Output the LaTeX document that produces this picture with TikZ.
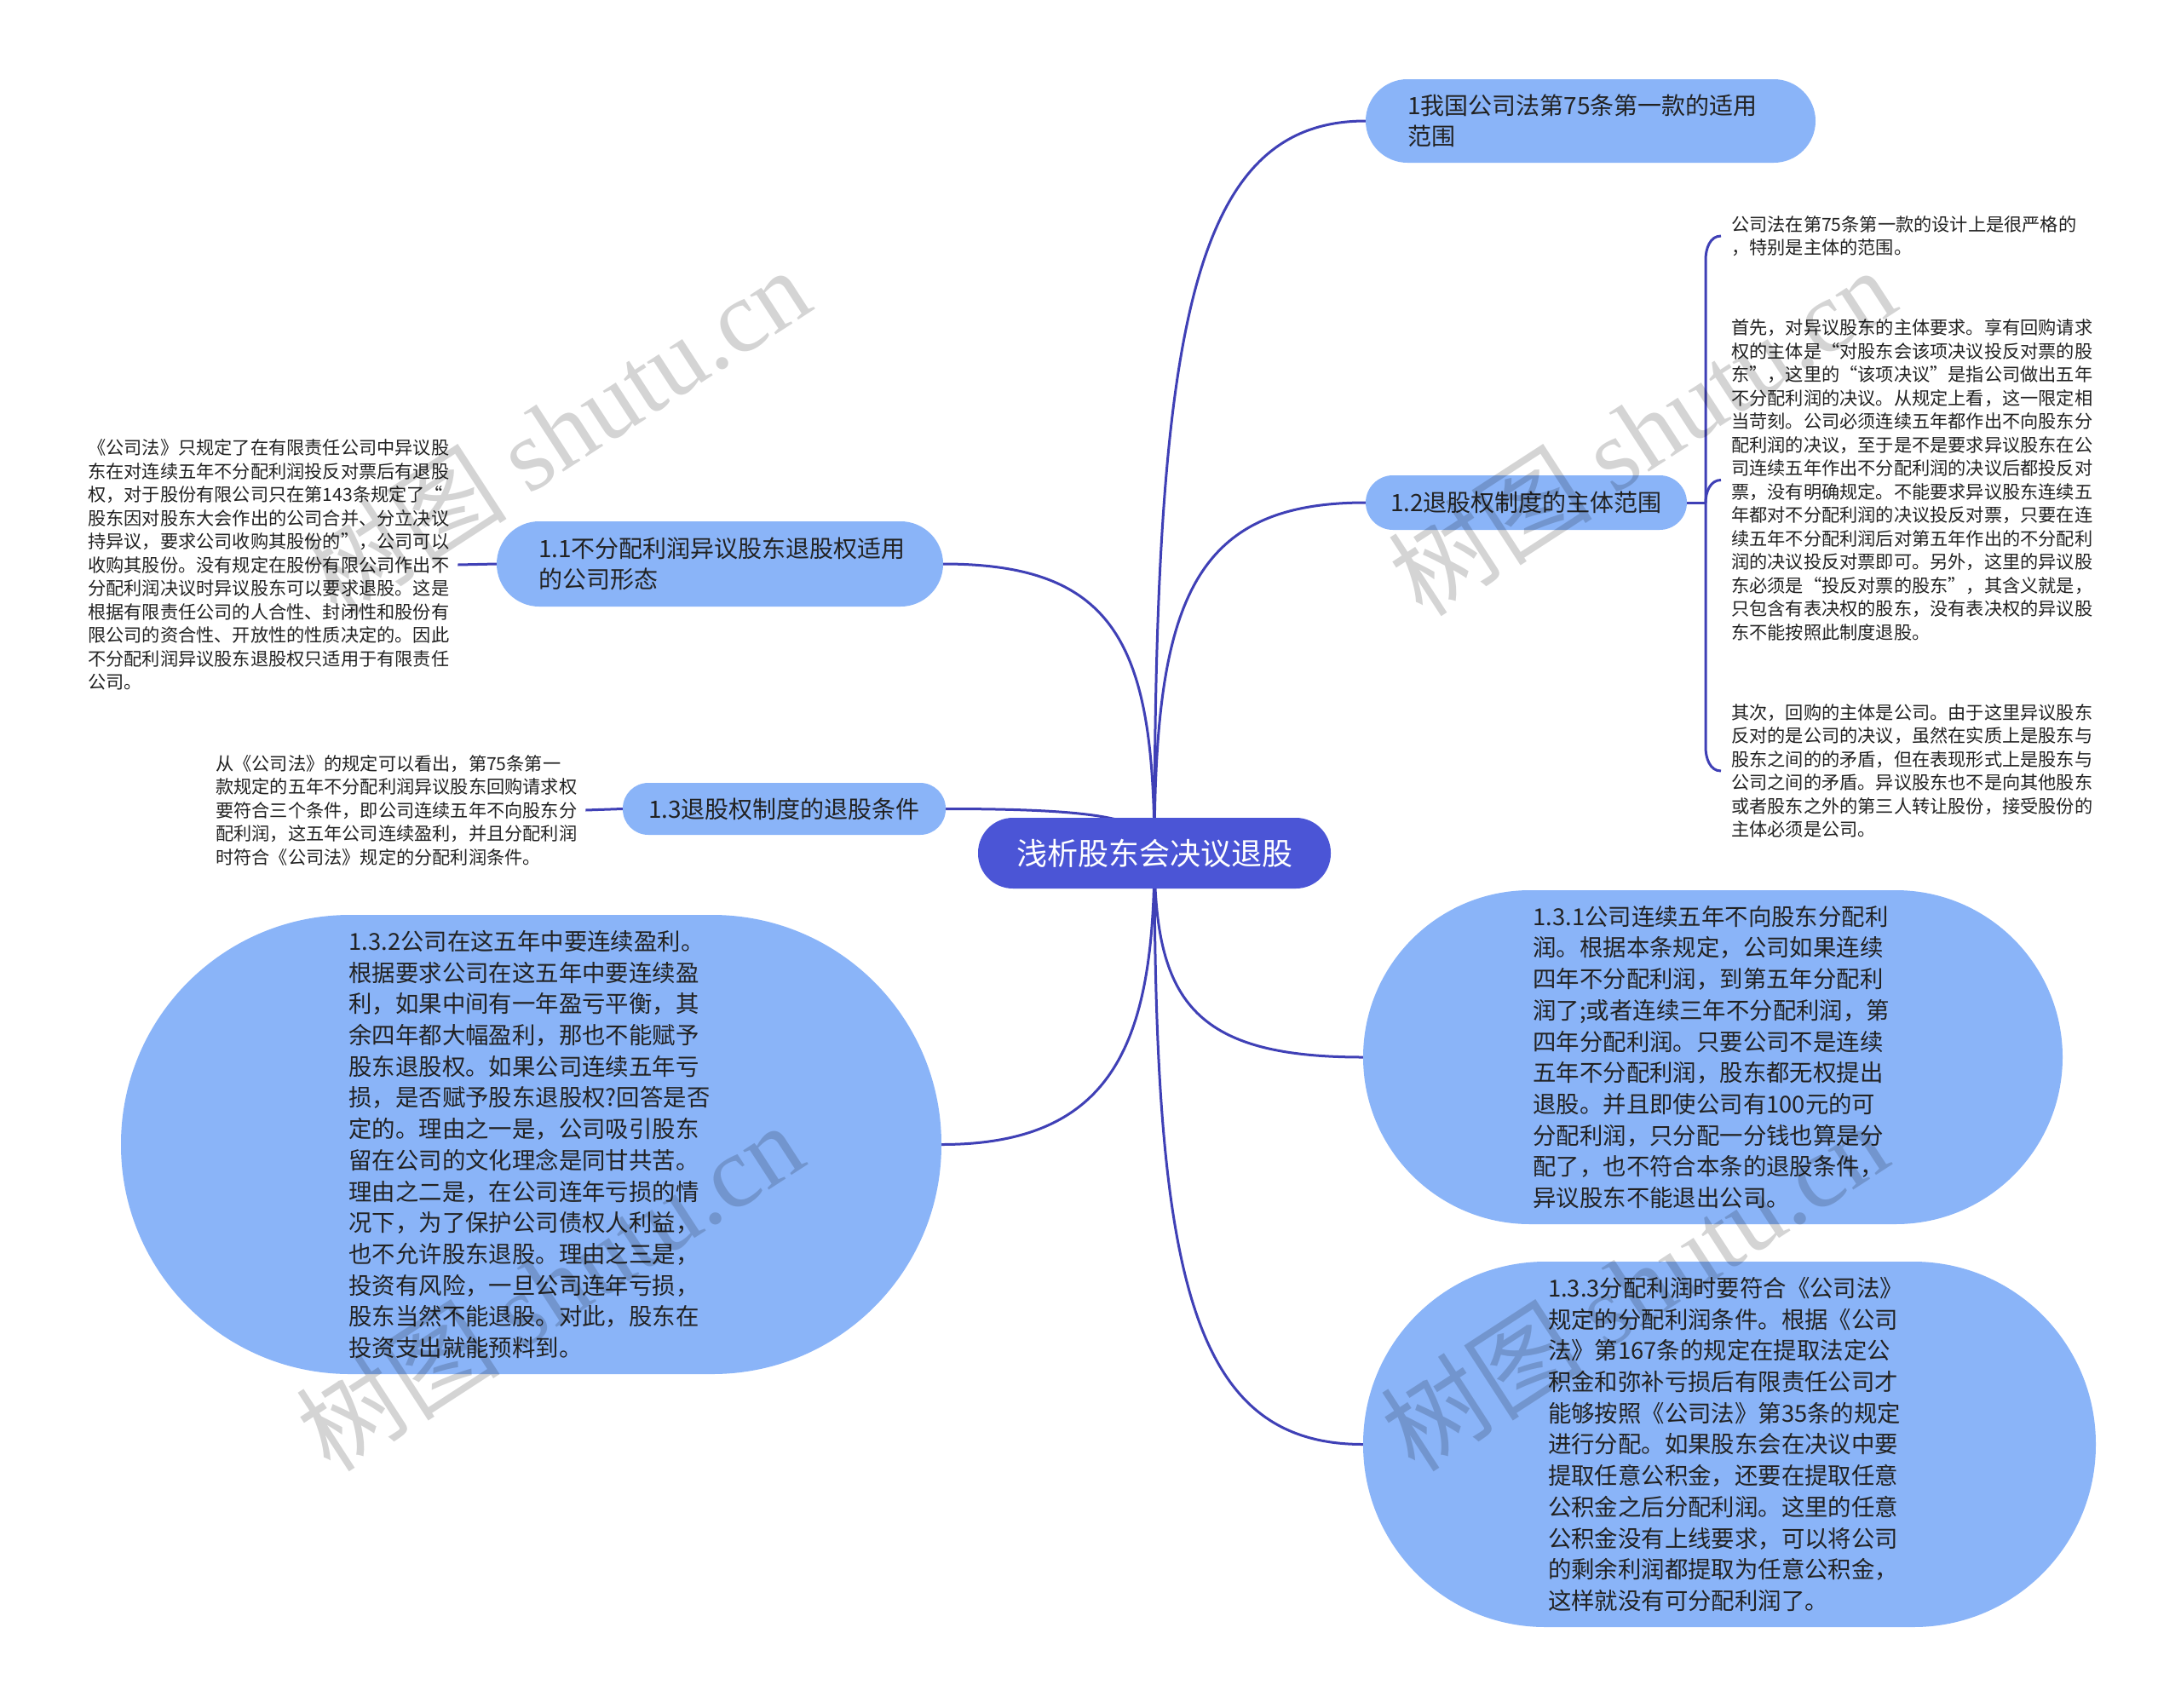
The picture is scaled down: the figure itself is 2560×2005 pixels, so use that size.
\documentclass[tikz,border=0pt]{standalone}
\usepackage{fontspec}
\setmainfont{Noto Sans CJK SC}
\newfontfamily\wmserif{Liberation Serif}
\usetikzlibrary{backgrounds}
\definecolor{linecol}{HTML}{3F40B6}
\definecolor{cfill}{HTML}{4B55D6}
\definecolor{bfill}{HTML}{8AB4F8}
\definecolor{tdark}{HTML}{222222}
\tikzset{
  linkline/.style={draw=linecol, line width=3pt},
  topic/.style={rectangle, fill=cfill, text=white, font=\fontsize{36}{44}\selectfont, inner sep=0pt},
  branch/.style={rectangle, fill=bfill, text=tdark, font=\fontsize{28}{36}\selectfont, inner sep=0pt, align=left},
  bigbox/.style={rectangle, fill=bfill, text=tdark, font=\fontsize{27.4}{36.7}\selectfont, inner sep=0pt, align=left},
  leaf/.style={text=tdark, font=\fontsize{21.2}{27.5}\selectfont, inner xsep=10pt, inner ysep=0pt, align=left},
  wm/.style={text=black, opacity=0.17, font=\fontsize{120}{120}\selectfont, inner sep=0pt}
}
\begin{document}
\begin{tikzpicture}[x=1pt,y=-1pt]
\useasboundingbox (0,0) rectangle (2560,2005);
\begin{scope}[on background layer]
\fill[white] (0,0) rectangle (2560,2005);
\end{scope}

% central topic
\node[topic, rounded corners=41pt, minimum width=414pt, minimum height=83pt] (c) at (1355,1001.5) {浅析股东会决议退股};

% branches
\node[branch, rounded corners=49pt, minimum width=528pt, minimum height=98pt, text width=430pt] (n1) at (1867,142) {1我国公司法第75条第一款的适用\\范围};
\node[branch, rounded corners=32pt, minimum width=377pt, minimum height=64pt] (n12) at (1791.5,590) {1.2退股权制度的主体范围};
\node[branch, rounded corners=50pt, minimum width=524pt, minimum height=100pt, text width=426pt] (n11) at (845,662) {1.1不分配利润异议股东退股权适用\\的公司形态};
\node[branch, rounded corners=30pt, minimum width=379pt, minimum height=61pt] (n13) at (920.5,949.5) {1.3退股权制度的退股条件};

% big nodes
\node[bigbox, rounded corners=196pt, minimum width=821pt, minimum height=392pt, text width=422pt] (n131) at (2010.5,1241) {1.3.1公司连续五年不向股东分配利\\润。根据本条规定，公司如果连续\\四年不分配利润，到第五年分配利\\润了;或者连续三年不分配利润，第\\四年分配利润。只要公司不是连续\\五年不分配利润，股东都无权提出\\退股。并且即使公司有100元的可\\分配利润，只分配一分钱也算是分\\配了，也不符合本条的退股条件，\\异议股东不能退出公司。};
\node[bigbox, rounded corners=214pt, minimum width=860pt, minimum height=429pt, text width=426pt] (n133) at (2030,1695.5) {1.3.3分配利润时要符合《公司法》\\规定的分配利润条件。根据《公司\\法》第167条的规定在提取法定公\\积金和弥补亏损后有限责任公司才\\能够按照《公司法》第35条的规定\\进行分配。如果股东会在决议中要\\提取任意公积金，还要在提取任意\\公积金之后分配利润。这里的任意\\公积金没有上线要求，可以将公司\\的剩余利润都提取为任意公积金，\\这样就没有可分配利润了。};
\node[bigbox, rounded corners=269pt, minimum width=963pt, minimum height=539pt, text width=428pt] (n132) at (623.5,1343.5) {1.3.2公司在这五年中要连续盈利。\\根据要求公司在这五年中要连续盈\\利，如果中间有一年盈亏平衡，其\\余四年都大幅盈利，那也不能赋予\\股东退股权。如果公司连续五年亏\\损，是否赋予股东退股权?回答是否\\定的。理由之一是，公司吸引股东\\留在公司的文化理念是同甘共苦。\\理由之二是，在公司连年亏损的情\\况下，为了保护公司债权人利益，\\也不允许股东退股。理由之三是，\\投资有风险，一旦公司连年亏损，\\股东当然不能退股。对此，股东在\\投资支出就能预料到。};

% leaves
\node[leaf, anchor=west] (l11) at (93,663) {《公司法》只规定了在有限责任公司中异议股\\东在对连续五年不分配利润投反对票后有退股\\权，对于股份有限公司只在第143条规定了“\\股东因对股东大会作出的公司合并、分立决议\\持异议，要求公司收购其股份的”，公司可以\\收购其股份。没有规定在股份有限公司作出不\\分配利润决议时异议股东可以要求退股。这是\\根据有限责任公司的人合性、封闭性和股份有\\限公司的资合性、开放性的性质决定的。因此\\不分配利润异议股东退股权只适用于有限责任\\公司。};
\node[leaf, anchor=west] (l13) at (243,951) {从《公司法》的规定可以看出，第75条第一\\款规定的五年不分配利润异议股东回购请求权\\要符合三个条件，即公司连续五年不向股东分\\配利润，这五年公司连续盈利，并且分配利润\\时符合《公司法》规定的分配利润条件。};
\node[leaf, anchor=west, inner xsep=12pt] (r1) at (2020,277) {公司法在第75条第一款的设计上是很严格的\\，特别是主体的范围。};
\node[leaf, anchor=west, inner xsep=12pt] (r2) at (2020,563.5) {首先，对异议股东的主体要求。享有回购请求\\权的主体是“对股东会该项决议投反对票的股\\东”，这里的“该项决议”是指公司做出五年\\不分配利润的决议。从规定上看，这一限定相\\当苛刻。公司必须连续五年都作出不向股东分\\配利润的决议，至于是不是要求异议股东在公\\司连续五年作出不分配利润的决议后都投反对\\票，没有明确规定。不能要求异议股东连续五\\年都对不分配利润的决议投反对票，只要在连\\续五年不分配利润后对第五年作出的不分配利\\润的决议投反对票即可。另外，这里的异议股\\东必须是“投反对票的股东”，其含义就是，\\只包含有表决权的股东，没有表决权的异议股\\东不能按照此制度退股。};
\node[leaf, anchor=west, inner xsep=12pt] (r3) at (2020,905) {其次，回购的主体是公司。由于这里异议股东\\反对的是公司的决议，虽然在实质上是股东与\\股东之间的的矛盾，但在表现形式上是股东与\\公司之间的矛盾。异议股东也不是向其他股东\\或者股东之外的第三人转让股份，接受股份的\\主体必须是公司。};

\coordinate (J) at (2002,590);

\begin{scope}[on background layer]
\draw[linkline] (c.center) .. controls (1355,383) and (1400,142) .. (n1.west);
\draw[linkline] (c.center) .. controls (1355,705) and (1400,590) .. (n12.west);
\draw[linkline] (c.center) .. controls (1355,757) and (1310,662) .. (n11.east);
\draw[linkline] (c.center) .. controls (1355,964) and (1311,949.5) .. (n13.east);
\draw[linkline] (c.center) .. controls (1355,1174) and (1399,1241) .. (n131.west);
\draw[linkline] (c.center) .. controls (1355,1501) and (1399,1695.5) .. (n133.west);
\draw[linkline] (c.center) .. controls (1355,1220) and (1310,1343.5) .. (n132.east);
\end{scope}

\draw[linkline] (n11.west) -- (l11.east);
\draw[linkline] (n13.west) -- (l13.east);
\draw[linkline] (n12.east) -- (J);
\draw[linkline] (J) -- (2002,305) to[out=90,in=180] (r1.west);
\draw[linkline] (J) to[out=90,in=180] (r2.west);
\draw[linkline] (J) -- (2002,877) to[out=-90,in=180] (r3.west);

% watermarks
\node[wm, rotate=33] (wm1) at (653,506) {树图 {\wmserif shutu.cn}};
\node[wm, rotate=33] (wm2) at (1927,506) {树图 {\wmserif shutu.cn}};
\node[wm, rotate=33] (wm3) at (645,1510) {树图 {\wmserif shutu.cn}};
\node[wm, rotate=33] (wm4) at (1918,1510) {树图 {\wmserif shutu.cn}};
\end{tikzpicture}
\end{document}
